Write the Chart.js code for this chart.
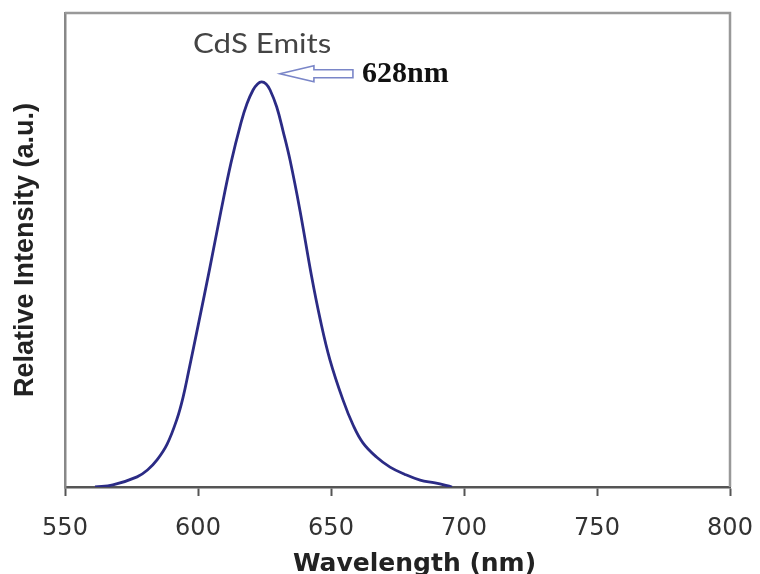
<!DOCTYPE html>
<html>
<head>
<meta charset="utf-8">
<script src="https://cdn.jsdelivr.net/npm/chart.js@4.4.1/dist/chart.umd.min.js"></script>
<style>
    html, body { margin: 0; padding: 0; background: #fff; }
    canvas { display: block; }
</style>
</head>
<body>
<canvas id="chart_1" width="760" height="574"></canvas>
<script>
// CdS photoluminescence spectrum (normalised to the peak)
const wavelengths = [561.3, 568.0, 577.1, 581.0, 584.6, 588.4, 592.1, 594.4, 596.4, 600.4,
    604.3, 608.6, 612.4, 616.2, 618.4, 620.7, 622.4, 623.9, 625.6, 627.1,
    629.6, 632.0, 634.6, 638.3, 642.7, 645.9, 649.6, 654.5, 658.3, 662.0,
    667.1, 672.2, 677.8, 683.5, 689.1, 695.5];
const intensities = [0, 0.005, 0.025, 0.042, 0.067, 0.106, 0.168, 0.222, 0.283, 0.410,
    0.536, 0.680, 0.800, 0.900, 0.946, 0.980, 0.995, 1.0, 0.995, 0.980,
    0.938, 0.878, 0.807, 0.684, 0.520, 0.415, 0.314, 0.215, 0.153, 0.109,
    0.074, 0.049, 0.031, 0.017, 0.010, 0];
const xTicks = [550, 600, 650, 700, 750, 800];

const peakLabel = '628nm';
const seriesLabel = 'CdS Emits';
const xTitle = 'Wavelength (nm)';
const yTitle = 'Relative Intensity (a.u.)';

// annotation anchors, in data units
const seriesLabelAt = [624.1, 1.072];
const arrowTipAt = [630.8, 1.02];
const peakLabelAt = [661.7, 1.0];

function drawText(ctx, text, x, y, font, color, align, sx){
    ctx.save();
    ctx.translate(x, y);
    ctx.scale(sx || 1, 1);
    ctx.font = font;
    ctx.fillStyle = color;
    ctx.textAlign = align || 'left';
    ctx.textBaseline = 'alphabetic';
    ctx.fillText(text, 0, 0);
    ctx.restore();
}

const annotate = {
    id: 'annotate',
    afterDraw(chart){
        const ctx = chart.ctx;
        const a = chart.chartArea;
        const x = chart.scales.x;
        const y = chart.scales.y;

        // top + right frame
        ctx.save();
        ctx.strokeStyle = '#999';
        ctx.lineWidth = 2.5;
        ctx.beginPath();
        ctx.moveTo(a.left, a.top);
        ctx.lineTo(a.right, a.top);
        ctx.lineTo(a.right, a.bottom);
        ctx.stroke();
        ctx.restore();

        // hollow arrow pointing at the peak
        const tx = x.getPixelForValue(arrowTipAt[0]);
        const ty = y.getPixelForValue(arrowTipAt[1]);
        const len = 73, head = 34, hh = 8, sh = 4;
        ctx.save();
        ctx.strokeStyle = '#7a86c8';
        ctx.lineWidth = 1.6;
        ctx.fillStyle = '#fff';
        ctx.beginPath();
        ctx.moveTo(tx, ty);
        ctx.lineTo(tx + head, ty - hh);
        ctx.lineTo(tx + head, ty - sh);
        ctx.lineTo(tx + len, ty - sh);
        ctx.lineTo(tx + len, ty + sh);
        ctx.lineTo(tx + head, ty + sh);
        ctx.lineTo(tx + head, ty + hh);
        ctx.closePath();
        ctx.fill();
        ctx.stroke();
        ctx.restore();

        drawText(ctx, peakLabel, x.getPixelForValue(peakLabelAt[0]), y.getPixelForValue(peakLabelAt[1]),
            'bold 30px "Liberation Serif"', '#111', 'left');
        drawText(ctx, seriesLabel, x.getPixelForValue(seriesLabelAt[0]), y.getPixelForValue(seriesLabelAt[1]),
            '26px Lato', '#444', 'center', 1.2);

        // x axis title
        drawText(ctx, xTitle, (a.left + a.right) / 2 + 17, 571,
            'bold 25px "DejaVu Sans"', '#222', 'center');
    }
};

const chart = new Chart('chart_1', {
    type: 'line',
    data: {
        datasets: [{
            label: seriesLabel,
            data: wavelengths.map((w, i) => ({ x: w, y: intensities[i] })),
            borderColor: '#2b2b85',
            borderWidth: 2.8,
            pointRadius: 0,
            fill: false,
            tension: 0.4
        }]
    },
    options: {
        responsive: false,
        animation: false,
        devicePixelRatio: 1,
        layout: { padding: { top: 13, right: 30, left: 0, bottom: 0 } },
        plugins: {
            legend: { display: false },
            tooltip: { enabled: false }
        },
        scales: {
            x: {
                type: 'linear',
                min: 550,
                max: 800,
                afterBuildTicks: (scale) => { scale.ticks = xTicks.map(v => ({ value: v })); },
                afterFit: (scale) => {
                    scale.height = 87;
                    // let the layout padding alone decide the right edge
                    scale.paddingLeft = 0;
                    scale.paddingRight = 0;
                },
                grid: {
                    drawOnChartArea: false,
                    drawTicks: true,
                    tickLength: 9,
                    tickWidth: 2,
                    color: '#555'
                },
                border: { display: true, color: '#555', width: 2.5 },
                ticks: {
                    padding: 18,
                    color: '#333',
                    font: { family: '"DejaVu Sans"', size: 24 },
                    maxRotation: 0
                }
            },
            y: {
                min: 0,
                max: 1.17,
                afterFit: (scale) => { scale.width = 65; },
                grid: { display: false },
                border: { display: true, color: '#888', width: 2.5 },
                ticks: { display: false },
                title: {
                    display: true,
                    text: yTitle,
                    color: '#222',
                    font: { family: '"Liberation Sans"', size: 27, weight: 'bold' },
                    padding: { top: 9, bottom: 0 }
                }
            }
        }
    },
    plugins: [annotate]
});
</script>
</body>
</html>
